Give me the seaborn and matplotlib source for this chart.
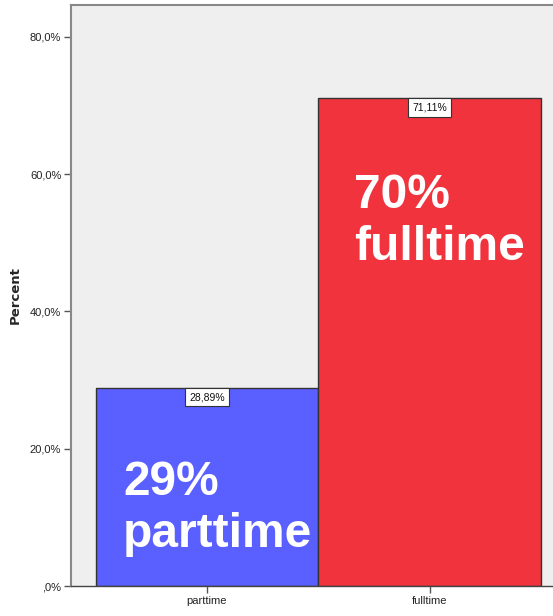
import matplotlib
matplotlib.use("Agg")
import matplotlib.pyplot as plt
from matplotlib import font_manager
import seaborn as sns
import pandas as pd

categories = ["parttime", "fulltime"]
percents = [28.89, 71.11]
bar_labels = ["28,89%", "71,11%"]
big_labels = ["29%\nparttime", "70%\nfulltime"]
ytick_values = [0, 20, 40, 60, 80]
ytick_labels = [",0%", "20,0%", "40,0%", "60,0%", "80,0%"]
colors = ["#5A5FFF", "#F0333D"]

sns.set_theme(style="white")
names = {f.name for f in font_manager.fontManager.ttflist}
narrow = "Liberation Sans Narrow" if "Liberation Sans Narrow" in names else "Liberation Sans"
plt.rcParams["font.family"] = ["Liberation Sans", "DejaVu Sans"]

df = pd.DataFrame({"cat": categories, "pct": percents})

W, H = 553, 616
fig = plt.figure(figsize=(W / 100, H / 100), dpi=100)
ax = fig.add_axes([71 / W, 30 / H, (W - 71) / W, (586 - 5) / H])
ax.set_facecolor("#EFEFEF")

sns.barplot(data=df, x="cat", y="pct", hue="cat", palette=colors, legend=False,
            width=1.0, edgecolor="#333333", linewidth=1.0, ax=ax, saturation=1)

ax.set_xlim(-0.61, 1.552)
ax.set_ylim(0, 84.66)

ax.set_yticks(ytick_values)
ax.set_yticklabels(ytick_labels, fontsize=8, family=narrow, color="#222222")
ax.set_xticks([0, 1])
ax.set_xticklabels(categories, fontsize=8, family=narrow, color="#222222")
ax.tick_params(axis="both", which="both", direction="out", length=5, width=1,
               color="#555555", left=True, bottom=True, pad=2)
ax.set_xlabel("")
ax.set_ylabel("Percent", fontsize=9.5, fontweight="bold", family="DejaVu Sans",
              labelpad=6)

for s in ["left", "top"]:
    ax.spines[s].set_color("#888888")
    ax.spines[s].set_linewidth(1.5)
ax.spines["bottom"].set_color("#444444")
ax.spines["bottom"].set_linewidth(1.0)
ax.spines["right"].set_visible(False)

for i, (v, lab) in enumerate(zip(percents, bar_labels)):
    ax.annotate(lab, xy=(i, v), xytext=(0, -3.2), textcoords="offset points",
                ha="center", va="top", fontsize=7.5, family=narrow, color="#111111",
                bbox=dict(boxstyle="square,pad=0.4", facecolor="white",
                          edgecolor="#333333", linewidth=0.8))

big_x = [-0.377, 0.659]
big_y = [5.7, 47.5]
for i, lab in enumerate(big_labels):
    ax.text(big_x[i], big_y[i], lab, ha="left", va="baseline", fontsize=34.5,
            fontweight="bold", color="white", linespacing=1.2)

fig.savefig("out.png", dpi=100)
